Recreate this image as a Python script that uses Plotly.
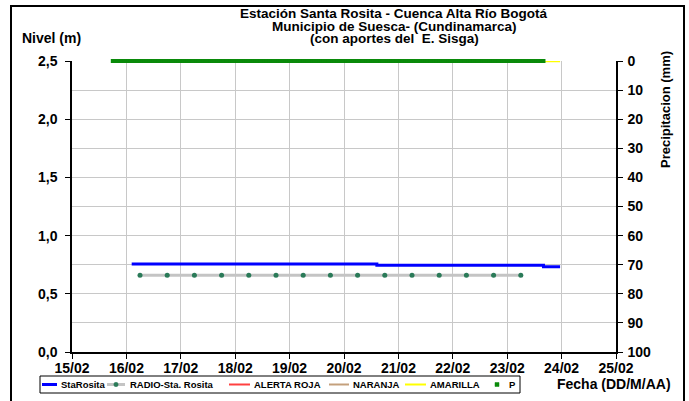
import plotly.graph_objects as go
import pandas as pd

# ---- data ----
sta_times = ["2024-02-16 02:20", "2024-02-20 14:30", "2024-02-23 16:00", "2024-02-23 23:20"]
sta_values = [0.756, 0.745, 0.733, 0.733]

radio_times = ["2024-02-16 06:00", "2024-02-16 18:00", "2024-02-17 06:00", "2024-02-17 18:00",
               "2024-02-18 06:00", "2024-02-18 18:00", "2024-02-19 06:00", "2024-02-19 18:00",
               "2024-02-20 06:00", "2024-02-20 18:00", "2024-02-21 06:00", "2024-02-21 18:00",
               "2024-02-22 06:00", "2024-02-22 18:00", "2024-02-23 06:00"]
radio_values = [0.66, 0.66, 0.66, 0.66, 0.66, 0.66, 0.66, 0.66,
                0.66, 0.66, 0.66, 0.66, 0.66, 0.66, 0.66]

alert_times = ["2024-02-16 02:20", "2024-02-23 23:20"]
roja_values = [3.2, 3.2]      # above visible range
naranja_values = [2.9, 2.9]   # above visible range
amarilla_values = [2.5, 2.5]

p_start, p_end = "2024-02-15 18:00", "2024-02-23 16:00"
p_times = pd.date_range(p_start, p_end, freq="1h")
p_values = [0.0] * len(p_times)

series_names = ["StaRosita", "RADIO-Sta. Rosita", "ALERTA ROJA", "NARANJA", "AMARILLA", "P"]

x_range = ["2024-02-15", "2024-02-25"]
y_range = [0, 2.5]
y2_range = [100, 0]

# ---- styles ----
FONT = "Liberation Sans"
W, H = 689, 401
L, R, T, B = 72, 73, 61, 49
PW, PH = W - L - R, H - T - B
C_BLUE, C_GRAY, C_DOT = "#0000FF", "#C4C4C4", "#2A7A58"
C_RED, C_NAR, C_YEL, C_P = "#FF4040", "#C4A07C", "#FFFF00", "#0A8A0A"


def px(xp):
    return (xp - L) / PW


def py(yp):
    return (H - B - yp) / PH


fig = go.Figure()
fig.add_trace(go.Scatter(x=sta_times, y=sta_values, name=series_names[0], mode="lines",
                         line=dict(color=C_BLUE, width=3, shape="hv")))
fig.add_trace(go.Scatter(x=radio_times, y=radio_values, name=series_names[1], mode="lines+markers",
                         line=dict(color=C_GRAY, width=3),
                         marker=dict(color=C_DOT, size=5, symbol="circle")))
fig.add_trace(go.Scatter(x=alert_times, y=roja_values, name=series_names[2], mode="lines",
                         line=dict(color=C_RED, width=2)))
fig.add_trace(go.Scatter(x=alert_times, y=naranja_values, name=series_names[3], mode="lines",
                         line=dict(color=C_NAR, width=2)))
fig.add_trace(go.Scatter(x=alert_times, y=amarilla_values, name=series_names[4], mode="lines",
                         line=dict(color=C_YEL, width=2.5)))
fig.add_trace(go.Scatter(x=p_times, y=p_values, name=series_names[5], mode="markers", yaxis="y2",
                         marker=dict(color=C_P, size=4, symbol="square"), cliponaxis=False))

tickfont = dict(family=FONT, size=14, color="black", weight="bold")

fig.update_layout(
    width=W, height=H,
    margin=dict(l=L, r=R, t=T, b=B, autoexpand=False),
    paper_bgcolor="white", plot_bgcolor="white",
    separators=",.",
    font=dict(family=FONT, color="black"),
    showlegend=False,
    xaxis=dict(type="date", range=x_range, dtick=86400000, tickformat="%d/%m",
               tick0="2024-02-15", automargin=False,
               showgrid=True, gridcolor="#C8C8C8", gridwidth=1,
               showline=True, linecolor="black", linewidth=1.5,
               ticks="outside", ticklen=5, tickcolor="black", ticklabelstandoff=-3,
               tickfont=tickfont, zeroline=False),
    yaxis=dict(range=y_range, dtick=0.5, tickformat=".1f", automargin=False,
               showgrid=False, showline=True, linecolor="black", linewidth=1.5,
               ticks="outside", ticklen=5, tickcolor="black", ticklabelstandoff=5,
               tickfont=tickfont, zeroline=False),
    yaxis2=dict(range=y2_range, dtick=10, overlaying="y", side="right", automargin=False,
                showgrid=True, gridcolor="#C8C8C8", gridwidth=1,
                showline=True, linecolor="black", linewidth=1.5,
                ticks="outside", ticklen=5, tickcolor="black",
                ticklabelstandoff=2,
                tickfont=tickfont, zeroline=False),
)

# ---- titles ----
title_font = dict(family=FONT, size=13.5, color="black", weight="bold")
title_lines = ["Estación Santa Rosita - Cuenca Alta Río Bogotá",
               "Municipio de Suesca- (Cundinamarca)",
               "(con aportes del  E. Sisga)"]
title_y_px = [14, 26.5, 38.5]
for t, ypx in zip(title_lines, title_y_px):
    fig.add_annotation(text=t, xref="paper", yref="paper", x=px(394),
                       y=py(ypx), xanchor="center", yanchor="middle",
                       showarrow=False, font=title_font)

big_font = dict(family=FONT, size=14, color="black", weight="bold")
fig.add_annotation(text="Nivel (m)", xref="paper", yref="paper", x=px(51),
                   y=py(38), xanchor="center", yanchor="middle",
                   showarrow=False, font=big_font)
fig.add_annotation(text="Precipitacion (mm)", xref="paper", yref="paper", x=px(666),
                   y=py(110), xanchor="center", yanchor="middle", textangle=-90,
                   showarrow=False, font=dict(family=FONT, size=13, color="black", weight="bold"))
fig.add_annotation(text="Fecha (DD/M/AA)", xref="paper", yref="paper", x=px(614),
                   y=py(384), xanchor="center", yanchor="middle",
                   showarrow=False, font=big_font)

# ---- legend (drawn as a boxed row below the plot) ----
leg_y = 384.5
leg_font = dict(family=FONT, size=9.5, color="black", weight="bold")
fig.add_shape(type="rect", xref="paper", yref="paper",
              x0=px(40), x1=px(520), y0=py(393), y1=py(376),
              line=dict(color="black", width=1), fillcolor="white")
leg_items = [  # (sample start, sample end, text x, colour, line width, marker)
    (42, 57, 59, C_BLUE, 3, None),
    (107, 125, 128, C_GRAY, 3, ("circle", C_DOT)),
    (229, 250, 252, C_RED, 2, None),
    (329, 349, 351, C_NAR, 2, None),
    (405, 426, 428, C_YEL, 2, None),
    (None, None, 507, None, 0, ("square", C_P)),
]
for name, (xs, xe, xt, col, lw, mk) in zip(series_names, leg_items):
    if xs is not None:
        fig.add_shape(type="line", xref="paper", yref="paper",
                      x0=px(xs), x1=px(xe), y0=py(leg_y), y1=py(leg_y),
                      line=dict(color=col, width=lw))
    if mk is not None:
        cx = (xs + xe) / 2 if xs is not None else 497
        r = 2.2 if mk[0] == "circle" else 2
        fig.add_shape(type="circle" if mk[0] == "circle" else "rect", xref="paper", yref="paper",
                      x0=px(cx - r), x1=px(cx + r), y0=py(leg_y + r), y1=py(leg_y - r),
                      line=dict(color=mk[1], width=0.5), fillcolor=mk[1])
    fig.add_annotation(text=name, xref="paper", yref="paper", x=px(xt), y=py(leg_y),
                       xanchor="left", yanchor="middle", showarrow=False, font=leg_font)

# outer frame of the chart
fig.add_shape(type="rect", xref="paper", yref="paper",
              x0=px(11), x1=px(684), y0=py(410), y1=py(6),
              line=dict(color="black", width=2), fillcolor="rgba(0,0,0,0)", layer="below")

fig.write_html("out.html", config={"displayModeBar": False},
               post_script="document.body.style.margin='0';")
